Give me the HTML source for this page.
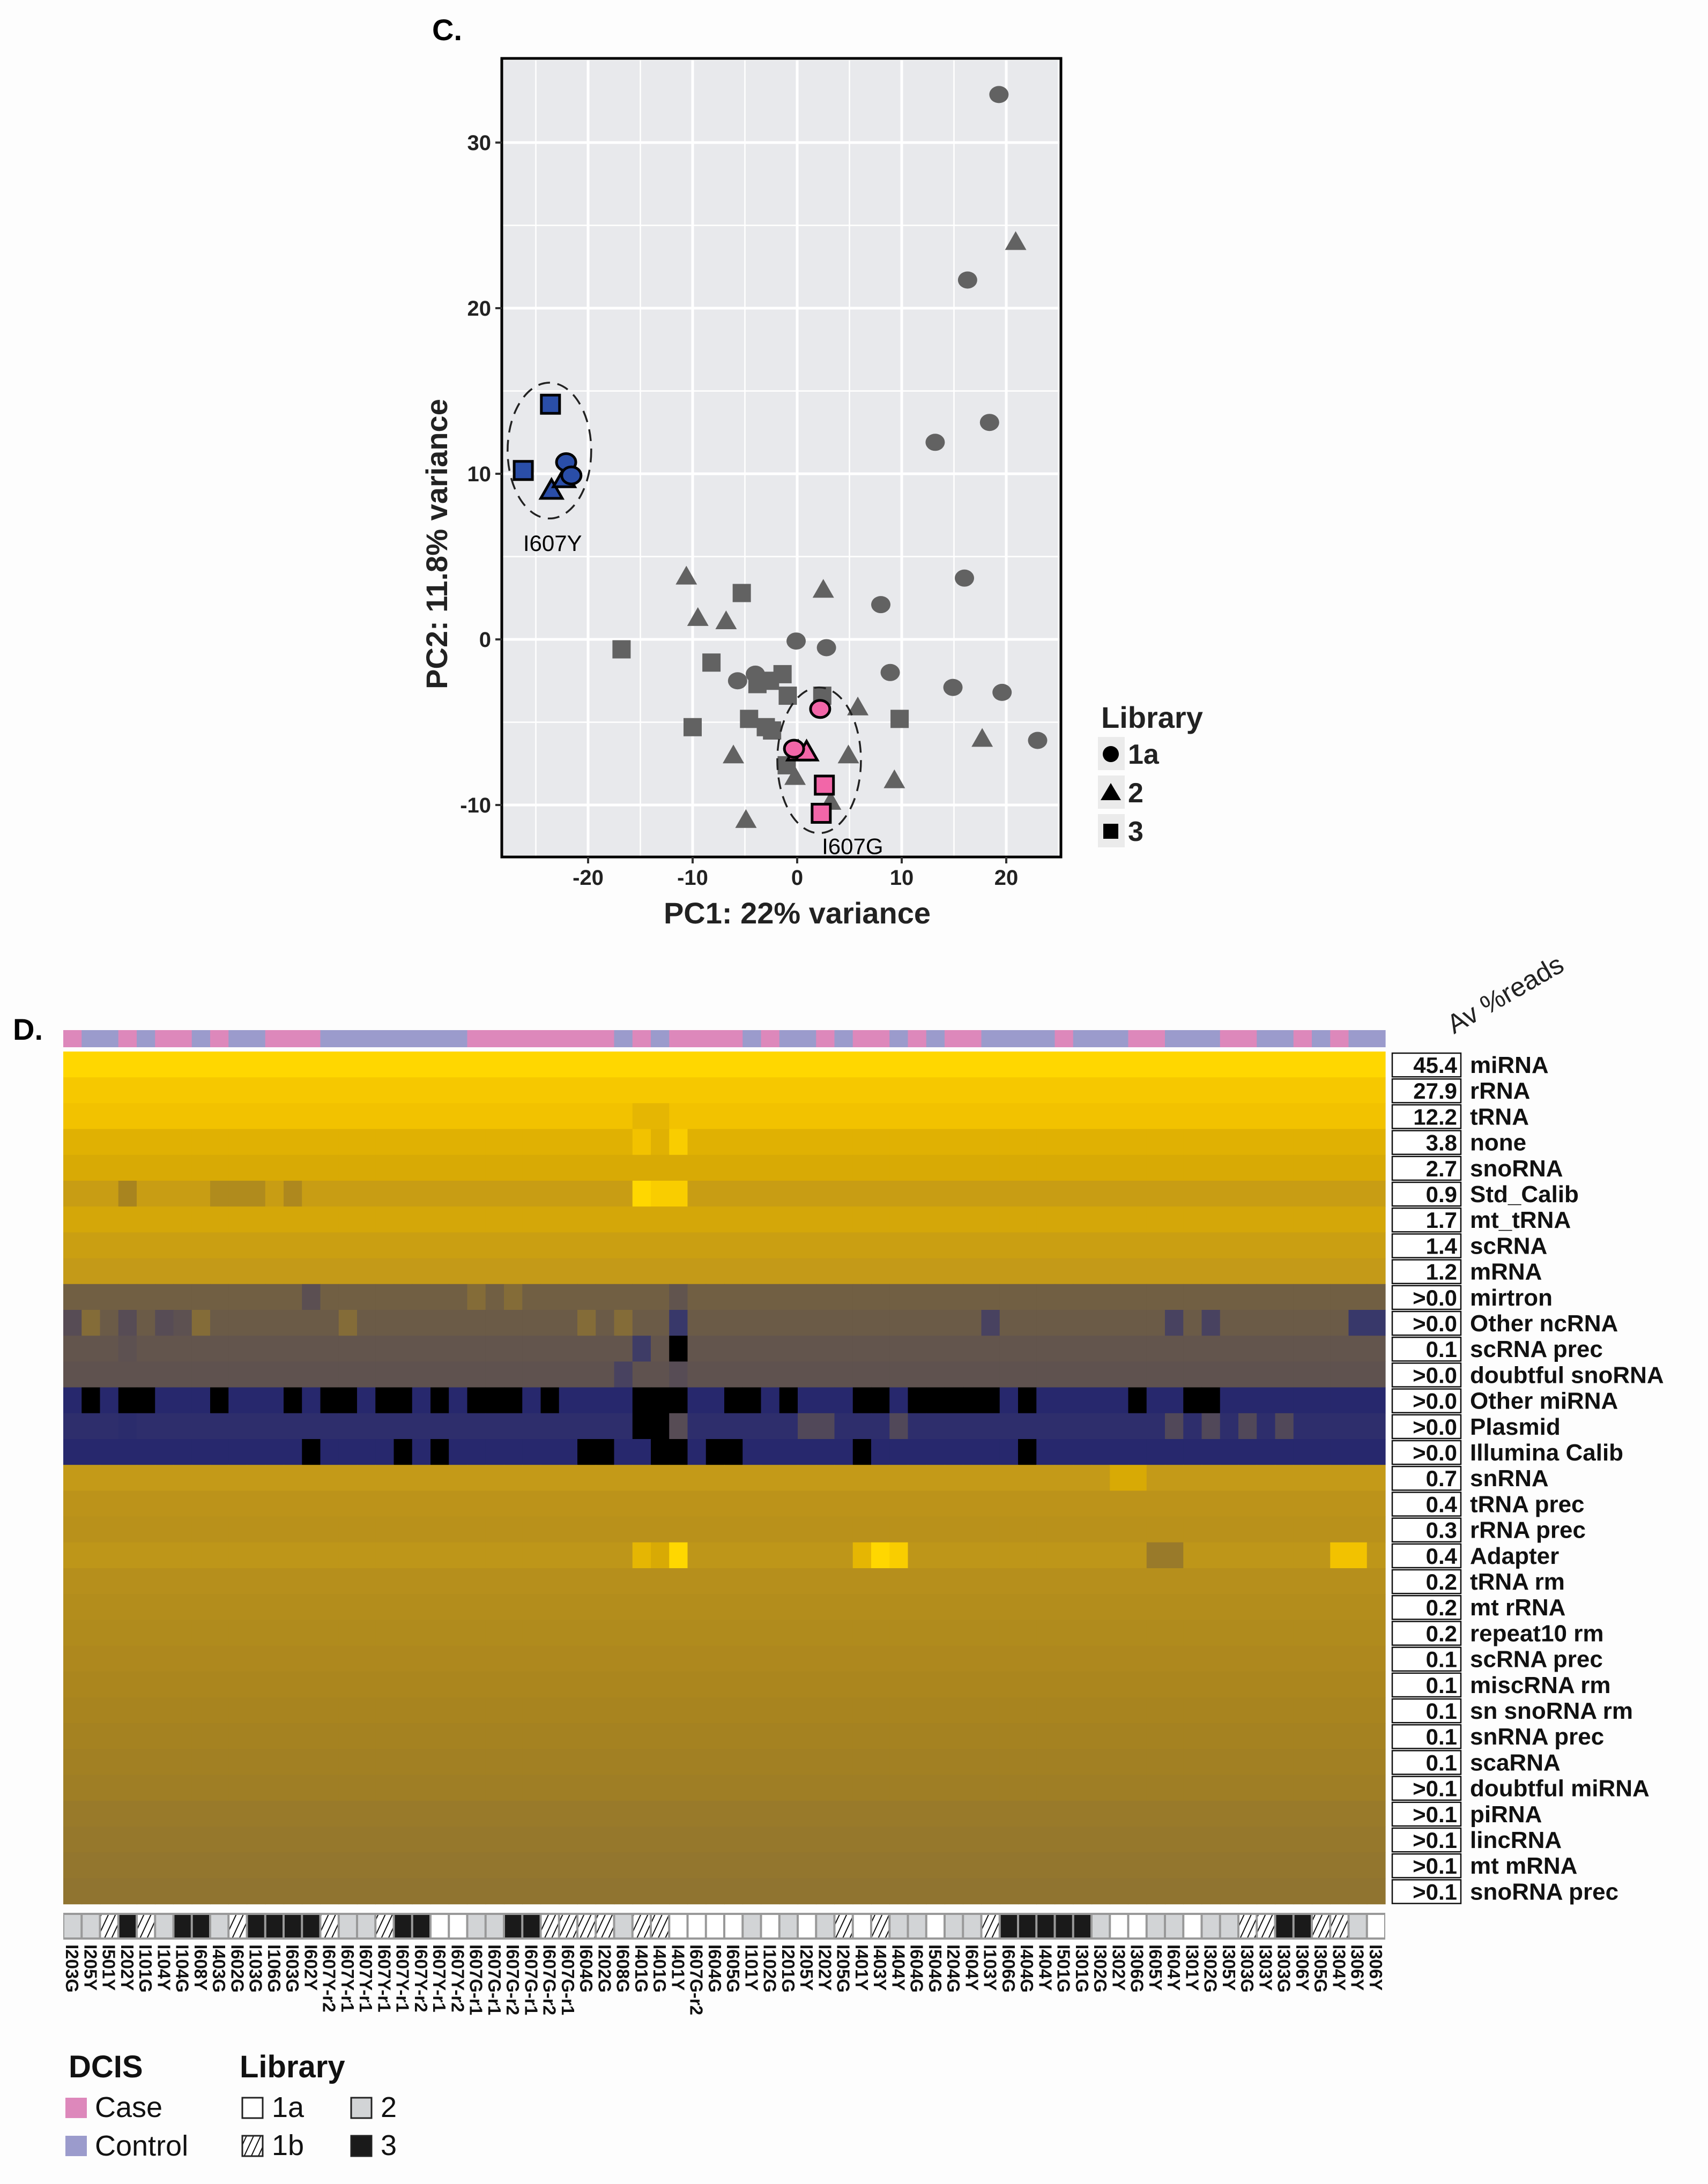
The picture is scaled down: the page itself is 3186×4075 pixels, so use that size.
<!DOCTYPE html>
<html><head><meta charset="utf-8"><style>
html,body{margin:0;padding:0;background:#fdfdfd;}
svg{display:block;font-family:"Liberation Sans",sans-serif;}
</style></head><body>
<svg id="fig" width="3186" height="4075" viewBox="0 0 3186 4075" xmlns="http://www.w3.org/2000/svg">
<defs>
<pattern id="hatch" patternUnits="userSpaceOnUse" width="12" height="12" patternTransform="rotate(25)">
<rect width="12" height="12" fill="#fff"/><line x1="0" y1="0" x2="0" y2="12" stroke="#111" stroke-width="4"/></pattern>
</defs>
<text x="806" y="75" font-size="56" font-weight="bold">C.</text>
<text x="24" y="1940" font-size="56" font-weight="bold">D.</text>
<g id="pca"></g>
<g id="heat"></g>
</svg>
<script>
// ---------- PCA data ----------
const grayCircleX=[19.3,16.3,18.4,13.2,16,8,-0.1,2.8,8.9,-5.7,-4,14.9,19.6,23];
const grayCircleY=[32.9,21.7,13.1,11.9,3.7,2.1,-0.1,-0.5,-2,-2.5,-2.1,-2.9,-3.2,-6.1];
const grayTriX=[20.9,-10.6,-9.5,-6.8,2.5,5.8,17.7,-6.1,4.9,9.3,-4.9,-0.2,3.2];
const grayTriY=[24,3.8,1.3,1.1,3,-4.1,-6,-7,-7,-8.5,-10.9,-8.3,-9.8];
const graySqX=[-5.3,-16.8,-8.2,-1.4,-2.6,-3.8,-0.9,2.4,-4.6,-3,-2.4,-10,9.8,-1];
const graySqY=[2.8,-0.6,-1.4,-2.1,-2.5,-2.7,-3.4,-3.4,-4.8,-5.3,-5.5,-5.3,-4.8,-7.6];
const blueSqX=[-23.6,-26.2], blueSqY=[14.2,10.2];
const blueCircleX=[-22.1,-21.6], blueCircleY=[10.7,9.9];
const blueTriX=[-23.5,-22.3], blueTriY=[9,9.7];
const pinkCircleX=[2.2,-0.3], pinkCircleY=[-4.2,-6.6];
const pinkTriX=[0.1,0.9], pinkTriY=[-6.8,-6.8];
const pinkSqX=[2.6,2.3], pinkSqY=[-8.8,-10.5];
const xTicks=[-20,-10,0,10,20], yTicks=[-10,0,10,20,30];

// ---------- Heatmap data ----------
const rowNames=["miRNA","rRNA","tRNA","none","snoRNA","Std_Calib","mt_tRNA","scRNA","mRNA","mirtron","Other ncRNA","scRNA prec","doubtful snoRNA","Other miRNA","Plasmid","Illumina Calib","snRNA","tRNA prec","rRNA prec","Adapter","tRNA rm","mt rRNA","repeat10 rm","scRNA prec","miscRNA rm","sn snoRNA rm","snRNA prec","scaRNA","doubtful miRNA","piRNA","lincRNA","mt mRNA","snoRNA prec"];
const rowValues=["45.4","27.9","12.2","3.8","2.7","0.9","1.7","1.4","1.2",">0.0",">0.0","0.1",">0.0",">0.0",">0.0",">0.0","0.7","0.4","0.3","0.4","0.2","0.2","0.2","0.1","0.1","0.1","0.1","0.1",">0.1",">0.1",">0.1",">0.1",">0.1"];
const rowBase=[10,9.3,9,8.3,8,7.2,7.8,7.3,7,4.2,4,3.6,3.4,1.2,1.5,1.2,7,6.7,6.6,6.8,6.5,6.4,6.3,6.2,6.1,6,5.9,5.8,5.7,5.5,5.4,5.3,5.2];
const rowExceptions=["","","31:8.5,32:8.5","31:9,33:9.5","","31:10,32:9.5,33:9.5,3:6,8:6.3,9:6.3,10:6.3,12:6.2","","","",
"13:3.2,22:4.8,24:4.8,33:3.5",
"0:3,1:4.8,3:3,5:3,6:3.3,7:4.8,15:4.8,28:4.8,30:4.8,33:2,50:2.5,60:2.5,62:2.5,70:2,71:2",
"3:3.3,31:2.2,33:0","30:2.5,33:3",
"1:0,3:0,4:0,8:0,12:0,14:0,15:0,17:0,18:0,20:0,22:0,23:0,24:0,26:0,31:0,32:0,33:0,36:0,37:0,39:0,43:0,44:0,46:0,47:0,48:0,49:0,50:0,52:0,58:0,61:0,62:0",
"3:1.4,31:0,32:0,33:3,40:2.8,41:2.8,45:2.8,60:2.8,62:2.8,64:2.8,66:2.8",
"13:0,18:0,20:0,28:0,29:0,32:0,33:0,35:0,36:0,43:0,52:0",
"57:8,58:8","","",
"31:8.5,32:8,33:10,43:8.5,44:10,45:9.5,69:9,70:9,59:5.5,60:5.5","","","","","","","","","","","","",""];
const colNames=["I203G","I205Y","I501Y","I202Y","I101G","I104Y","I104G","I608Y","I403G","I602G","I103G","I106G","I603G","I602Y","I607Y-r2","I607Y-r1","I607Y-r1","I607Y-r1","I607Y-r1","I607Y-r2","I607Y-r1","I607Y-r2","I607G-r1","I607G-r1","I607G-r2","I607G-r1","I607G-r2","I607G-r1","I604G","I202G","I608G","I401G","I401G","I401Y","I607G-r2","I604G","I605G","I101Y","I102G","I201G","I205Y","I202Y","I205G","I401Y","I403Y","I404Y","I604G","I504G","I204G","I604Y","I103Y","I606G","I404G","I404Y","I501G","I301G","I302G","I302Y","I306G","I605Y","I604Y","I301Y","I302G","I305Y","I303G","I303Y","I303G","I306Y","I305G","I304Y","I306Y","I306Y"];
const dcis="pccpcppcpccpppccccccccppppppppcpcppppcpccpcppcpcppccccpcccppcccppccpcpcc".split("");
const library="ggbkbgkkgbkkkkbggbkkaaggkkbbbbgbbaaaagagagbabggaggbkkkkkgaaggaggbbkkbbgag".split("");

const NS="http://www.w3.org/2000/svg";
function el(tag,attrs,parent){const e=document.createElementNS(NS,tag);for(const k in attrs)e.setAttribute(k,attrs[k]);parent.appendChild(e);return e;}

// ---------- PCA ----------
const pca=document.getElementById('pca');
const PL=936,PR=1979,PT=109,PB=1599;
const X0=1487,XS=19.5,Y0=1193,YS=30.9;
const sx=v=>X0+v*XS, sy=v=>Y0-v*YS;
let r=el('rect',{x:PL,y:PT,width:PR-PL,height:PB-PT,fill:'#e8e9ec'},pca);

for(let v=-25;v<=25;v+=5){const g=el('line',{x1:sx(v),x2:sx(v),y1:PT,y2:PB,stroke:'#fff','stroke-width':v%10===0?5:2.5},pca);
}
for(let v=-10;v<=35;v+=5){const g=el('line',{y1:sy(v),y2:sy(v),x1:PL,x2:PR,stroke:'#fff','stroke-width':v%10===0?5:2.5},pca);
}
function marker(shape,x,y,fill,stroke,name){
 const cx=sx(x),cy=sy(y);let m;const sw=stroke?5:0;
 if(shape==='c')m=el('ellipse',{cx,cy,rx:18,ry:16,fill},pca);
 else if(shape==='t')m=el('polygon',{points:`${cx},${cy-20} ${cx-20},${cy+15} ${cx+20},${cy+15}`,fill},pca);
 else m=el('rect',{x:cx-17,y:cy-17,width:34,height:34,fill},pca);
 if(stroke){m.setAttribute('stroke',stroke);m.setAttribute('stroke-width',sw);}
 
 
}
const G='#626262';
grayCircleX.forEach((v,i)=>marker('c',v,grayCircleY[i],G,null,'point-lib-1a'));
grayTriX.forEach((v,i)=>marker('t',v,grayTriY[i],G,null,'point-lib-2'));
graySqX.forEach((v,i)=>marker('s',v,graySqY[i],G,null,'point-lib-3'));
[[-23.7,11.4,4,4.1],[2.1,-7.3,4,4.4]].forEach((e,i)=>{const o=el('ellipse',{cx:sx(e[0]),cy:sy(e[1]),rx:e[2]*XS,ry:e[3]*YS,fill:'none',stroke:'#222','stroke-width':3.5,'stroke-dasharray':'22 14'},pca);
});
const B='#2a4ea8',P='#f266a8';
blueSqX.forEach((v,i)=>marker('s',v,blueSqY[i],B,'#000','point-i607y'));
blueTriX.forEach((v,i)=>marker('t',v,blueTriY[i],B,'#000','point-i607y'));
blueCircleX.forEach((v,i)=>marker('c',v,blueCircleY[i],B,'#000','point-i607y'));
pinkTriX.forEach((v,i)=>marker('t',v,pinkTriY[i],P,'#000','point-i607g'));
pinkCircleX.forEach((v,i)=>marker('c',v,pinkCircleY[i],P,'#000','point-i607g'));
pinkSqX.forEach((v,i)=>marker('s',v,pinkSqY[i],P,'#000','point-i607g'));
let t=el('text',{x:sx(-23.4),y:sy(5.8)+14,'font-size':42,'text-anchor':'middle'},pca);t.textContent='I607Y';

t=el('text',{x:sx(5.3),y:sy(-12.5)+14,'font-size':42,'text-anchor':'middle'},pca);t.textContent='I607G';

r=el('rect',{x:PL,y:PT,width:PR-PL,height:PB-PT,fill:'none',stroke:'#000','stroke-width':5},pca);

xTicks.forEach(v=>{el('line',{x1:sx(v),x2:sx(v),y1:PB,y2:PB+12,stroke:'#333','stroke-width':4},pca);
 const tx=el('text',{x:sx(v),y:PB+52,'font-size':40,'font-weight':'bold','text-anchor':'middle',fill:'#222'},pca);tx.textContent=v;
 });
yTicks.forEach(v=>{el('line',{x1:PL-12,x2:PL,y1:sy(v),y2:sy(v),stroke:'#333','stroke-width':4},pca);
 const tx=el('text',{x:PL-20,y:sy(v)+14,'font-size':40,'font-weight':'bold','text-anchor':'end',fill:'#222'},pca);tx.textContent=v;
 });
t=el('text',{x:1487,y:1723,'font-size':56,'font-weight':'bold','text-anchor':'middle',fill:'#222'},pca);t.textContent='PC1: 22% variance';

t=el('text',{x:0,y:0,'font-size':56,'font-weight':'bold','text-anchor':'middle',fill:'#222',transform:'translate(834,1015) rotate(-90)'},pca);t.textContent='PC2: 11.8% variance';

t=el('text',{x:2054,y:1358,'font-size':56,'font-weight':'bold',fill:'#222'},pca);t.textContent='Library';

['c','t','s'].forEach((s,i)=>{const cy=1407+i*72;
 el('rect',{x:2048,y:cy-32,width:50,height:62,fill:'#ebebeb'},pca);
 let m;if(s==='c')m=el('circle',{cx:2072,cy:cy,r:15,fill:'#000'},pca);
 else if(s==='t')m=el('polygon',{points:`2072,${cy-18} 2053,${cy+14} 2091,${cy+14}`,fill:'#000'},pca);
 else m=el('rect',{x:2058,y:cy-14,width:28,height:28,fill:'#000'},pca);
 
 const tx=el('text',{x:2104,y:cy+18,'font-size':52,'font-weight':'bold',fill:'#222'},pca);tx.textContent=['1a','2','3'][i];
 });

// ---------- Heatmap ----------
const heat=document.getElementById('heat');
const HX=118,HW=2466,HY=1962,RH=48.2,NC=colNames.length,CW=HW/NC;
const stops=['#000000','#23246e','#38386a','#574c55','#6b5b47','#8a7034','#a8841f','#c49a18','#d8aa05','#f2c200','#ffd700'];
function hex(c){return [1,3,5].map(i=>parseInt(c.substr(i,2),16));}
function color(v){v=Math.max(0,Math.min(10,v));const i=Math.min(9,Math.floor(v)),f=v-i;const a=hex(stops[i]),b=hex(stops[i+1]);
 return 'rgb('+a.map((x,k)=>Math.round(x+(b[k]-x)*f)).join(',')+')';}
dcis.slice(0,NC).forEach((d,i)=>{const c=el('rect',{x:HX+i*CW,y:1922,width:CW+0.6,height:32,fill:d==='p'?'#dd88bb':'#9b9bcc'},heat);
 });
rowNames.forEach((name,ri)=>{
 const vals=new Array(NC).fill(rowBase[ri]);
 if(rowExceptions[ri])rowExceptions[ri].split(',').forEach(p=>{const [k,v]=p.split(':');vals[+k]=+v;});
 vals.forEach((v,ci)=>{const c=el('rect',{x:HX+ci*CW,y:HY+ri*RH,width:CW+0.6,height:RH+0.6,fill:color(v)},heat);
  });
 const y=HY+ri*RH;
 const b=el('rect',{x:2597,y:y+3,width:128,height:RH-4,fill:'#fff',stroke:'#111','stroke-width':2.5},heat);
 
 const tv=el('text',{x:2718,y:y+40,'font-size':42,'font-weight':'bold','text-anchor':'end',fill:'#111'},heat);tv.textContent=rowValues[ri];
 
 const tn=el('text',{x:2742,y:y+40,'font-size':44,'font-weight':'bold',fill:'#111'},heat);tn.textContent=name;
 
});
t=el('text',{x:0,y:0,'font-size':50,fill:'#222',transform:'translate(2712,1930) rotate(-30)'},heat);t.textContent='Av %reads';

// library bar
let lb=el('rect',{x:HX,y:3569,width:HW,height:50,fill:'#999'},heat);

const libFill={a:'#ffffff',b:'url(#hatch)',g:'#d2d4d6',k:'#1a1a1a'};
library.slice(0,NC).forEach((l,i)=>{const c=el('rect',{x:HX+i*CW+2,y:3573,width:CW-4,height:42,fill:libFill[l]},heat);
 });
colNames.forEach((n,i)=>{const tx=el('text',{x:HX+i*CW+CW/2-12,y:3628,'font-size':33,'font-weight':'bold',fill:'#111',transform:`rotate(90 ${HX+i*CW+CW/2-12} 3628)`},heat);
 tx.textContent=n;});
// legend
function txt(x,y,s,sz,w,name){const e=el('text',{x,y,'font-size':sz,'font-weight':w,fill:'#111'},heat);e.textContent=s;
 }
txt(128,3876,'DCIS',58,'bold','dcis-legend-title');
txt(447,3876,'Library',58,'bold','library-legend-title');
let s=el('rect',{x:122,y:3914,width:40,height:38,fill:'#dd88bb'},heat);
s=el('rect',{x:122,y:3985,width:40,height:38,fill:'#9b9bcc'},heat);
txt(177,3950,'Case',54,'normal','legend-case');
txt(177,4022,'Control',54,'normal','legend-control');
[[452,3914,'a','1a'],[452,3985,'b','1b'],[655,3914,'g','2'],[655,3985,'k','3']].forEach(e=>{
 const q=el('rect',{x:e[0],y:e[1],width:38,height:38,fill:libFill[e[2]],stroke:'#222','stroke-width':3},heat);
 
 txt(e[0]+55,e[1]+36,e[3],54,'normal','legend-library-label');});
</script>
</body></html>
